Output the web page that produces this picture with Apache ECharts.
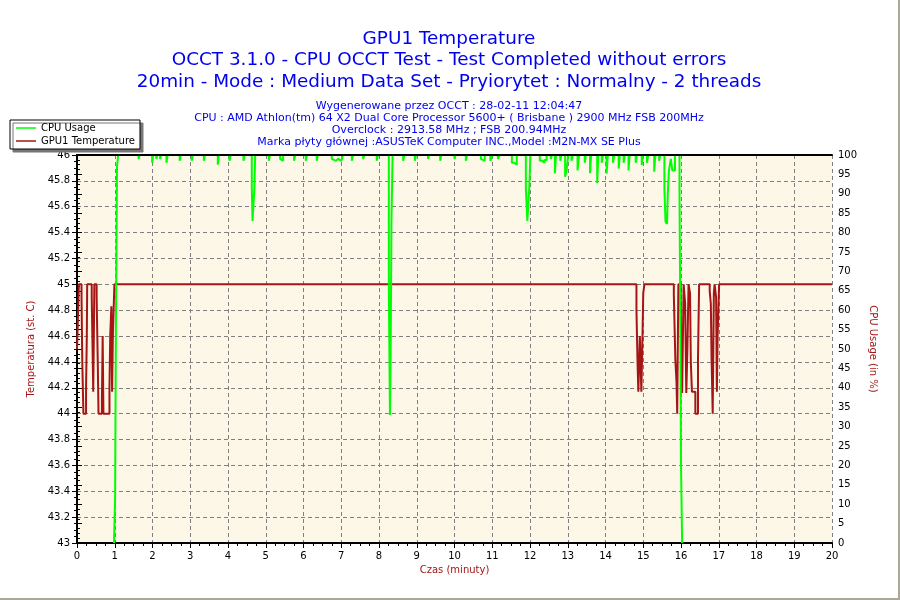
<!DOCTYPE html>
<html lang="pl">
<head>
    <meta charset="UTF-8">
    <title>GPU1 Temperature</title>
    <script src="https://cdn.jsdelivr.net/npm/echarts/dist/echarts.min.js"></script>
    <style>
        body {
            margin: 0;
            background: #fff;
        }

        #main {
            width: 900px;
            height: 600px;
            box-sizing: border-box;
            border-right: 2px solid #aca899;
            border-bottom: 2px solid #aca899;
        }
    </style>
</head>
<body>
<div id="main"></div>
<script type="text/javascript">
    // nagłówek
    var titleLines = [
        'GPU1 Temperature',
        'OCCT 3.1.0 - CPU OCCT Test - Test Completed without errors',
        '20min - Mode : Medium Data Set - Pryiorytet : Normalny - 2 threads'
    ];
    var infoLines = [
        'Wygenerowane przez OCCT : 28-02-11 12:04:47',
        'CPU : AMD Athlon(tm) 64 X2 Dual Core Processor 5600+ ( Brisbane ) 2900 MHz FSB 200MHz',
        'Overclock : 2913.58 MHz ; FSB 200.94MHz',
        'Marka płyty głównej :ASUSTeK Computer INC.,Model :M2N-MX SE Plus'
    ];
    var seriesNames = ['CPU Usage', 'GPU1 Temperature'];

    // temperatura GPU [minuta, st. C]
    var tempData = [
        [0, 44.5], [0.05, 45], [0.12, 44.9], [0.14, 44.4], [0.17, 44.0], [0.24, 44.2], [0.26, 44.6],
        [0.27, 45], [0.39, 44.9], [0.41, 44.55], [0.43, 44.17], [0.46, 45], [0.52, 44.9], [0.55, 44.4],
        [0.57, 44.0], [0.66, 44.1], [0.68, 44.6], [0.70, 44.0], [0.86, 44.2], [0.88, 44.6], [0.91, 44.83],
        [0.93, 44.17], [0.95, 44.6], [0.99, 45],
        [14.82, 44.8], [14.85, 44.38], [14.87, 44.17], [14.91, 44.6], [14.95, 44.17], [14.98, 44.6],
        [15.0, 44.93], [15.03, 45],
        [15.81, 44.92], [15.85, 44.42], [15.88, 44.25], [15.9, 44.0], [15.93, 45], [15.99, 44.9],
        [16.01, 44.42], [16.03, 44.16], [16.07, 45], [16.11, 44.85], [16.14, 44.16], [16.17, 44.5],
        [16.2, 45], [16.24, 44.93], [16.26, 44.4], [16.29, 44.17], [16.34, 44.17], [16.38, 44.0],
        [16.45, 44.42], [16.48, 45],
        [16.76, 44.95], [16.79, 44.85], [16.81, 44.42], [16.84, 44.0], [16.87, 44.93], [16.89, 45],
        [16.93, 44.9], [16.95, 44.17], [16.97, 44.6], [17.01, 45], [20, 45]
    ];

    // obciążenie CPU [minuta, %]
    var cpuData = [
        [0.98, 0], [0.99, 4], [1.01, 12], [1.03, 55], [1.06, 97], [1.09, 100],
        [1.63, 99], [1.66, 100], [1.99, 98], [2.02, 100], [2.1, 99], [2.13, 100], [2.2, 99], [2.23, 100],
        [2.37, 98], [2.4, 100], [2.72, 98.5], [2.75, 100], [3.04, 98.5], [3.07, 100],
        [3.36, 98.5], [3.39, 100], [3.73, 97.5], [3.76, 100], [4.04, 98.5], [4.07, 100],
        [4.41, 98.5], [4.44, 100],
        [4.63, 91.6], [4.65, 83], [4.70, 91.6], [4.72, 100],
        [5.08, 98.5], [5.11, 100], [5.38, 99], [5.42, 98.5], [5.46, 100], [5.75, 98.5], [5.78, 100],
        [6.06, 98.5], [6.09, 100], [6.35, 98.5], [6.38, 100],
        [6.75, 99], [6.8, 98.5], [6.86, 99], [6.92, 98.5], [7.0, 99], [7.05, 100],
        [7.28, 98.5], [7.31, 100], [7.58, 99], [7.61, 100], [7.94, 98.5], [7.97, 100],
        [8.26, 66], [8.29, 33], [8.31, 50], [8.33, 83], [8.36, 100],
        [8.64, 98.5], [8.67, 100], [8.95, 98.5], [8.98, 100], [9.3, 99], [9.33, 100],
        [9.62, 98.5], [9.65, 100], [10.0, 99], [10.03, 100], [10.3, 98.5], [10.33, 100],
        [10.7, 99], [10.75, 98.5], [10.8, 100], [10.95, 98.5], [11.0, 100], [11.15, 99], [11.2, 100],
        [11.52, 98], [11.58, 97.5], [11.65, 100],
        [11.89, 91.4], [11.93, 83], [11.98, 91.4], [12.01, 100],
        [12.26, 98.5], [12.32, 98], [12.38, 98.7], [12.44, 100], [12.55, 99], [12.58, 100],
        [12.66, 95.3], [12.69, 100], [12.8, 98.5], [12.83, 100],
        [12.93, 94.4], [12.97, 96], [13.01, 100], [13.1, 98.5], [13.13, 100],
        [13.26, 96], [13.3, 100], [13.45, 98], [13.48, 100], [13.59, 95.3], [13.62, 100],
        [13.78, 92.7], [13.81, 100], [13.9, 98], [13.93, 100], [14.03, 95.2], [14.06, 100],
        [14.2, 98], [14.23, 100], [14.35, 96.5], [14.38, 100], [14.48, 98], [14.51, 100],
        [14.61, 96], [14.64, 100], [14.8, 98], [14.83, 100], [14.96, 97.4], [14.99, 100],
        [15.1, 98], [15.13, 100], [15.29, 95.7], [15.32, 100], [15.42, 98.5], [15.45, 100],
        [15.56, 91.2], [15.59, 82.8], [15.63, 82.2], [15.65, 90], [15.68, 96], [15.73, 99],
        [15.77, 96], [15.84, 100],
        [15.96, 90.3], [15.98, 61], [16.0, 20.5], [16.03, 0]
    ];

    var blue = '#0000ee';
    var darkRed = '#a51515';
    var gridLine = {show: true, lineStyle: {color: '#808080', type: [4, 3], width: 1}};

    var titles = [];
    titleLines.forEach(function (t, i) {
        titles.push({
            text: t, left: 'center', top: 25 + i * 21.5,
            textStyle: {color: blue, fontSize: 18.4, fontWeight: 'normal', fontFamily: 'DejaVu Sans'}
        });
    });
    infoLines.forEach(function (t, i) {
        titles.push({
            text: t, left: 'center', top: 96 + i * 12,
            textStyle: {color: blue, fontSize: 11, fontWeight: 'normal', fontFamily: 'DejaVu Sans'}
        });
    });

    var myChart = echarts.init(document.getElementById('main'));
    var option = {
        animation: false,
        textStyle: {fontFamily: 'DejaVu Sans'},
        title: titles,
        legend: {
            data: seriesNames,
            orient: 'vertical',
            left: 10,
            top: 120,
            icon: 'rect',
            itemWidth: 20,
            itemHeight: 1.5,
            itemGap: 1,
            padding: [2, 5, 2, 6],
            backgroundColor: '#fff',
            borderColor: '#000',
            borderWidth: 1,
            borderRadius: 0,
            shadowColor: '#777',
            shadowBlur: 0,
            shadowOffsetX: 3,
            shadowOffsetY: 3,
            textStyle: {fontSize: 10, color: '#000', lineHeight: 12}
        },
        grid: {
            left: 77, right: 66, top: 155, bottom: 55,
            show: true, backgroundColor: '#fdf7e8', borderWidth: 0
        },
        xAxis: [{
            type: 'value',
            min: 0, max: 20, interval: 1,
            name: 'Czas (minuty)',
            nameLocation: 'middle',
            nameGap: 22,
            nameTextStyle: {color: darkRed, fontSize: 10},
            axisLine: {lineStyle: {color: '#000', width: 2}},
            axisTick: {length: 5, lineStyle: {color: '#000'}},
            minorTick: {show: true, splitNumber: 4, length: 3, lineStyle: {color: '#000'}},
            axisLabel: {color: '#000', fontSize: 10, margin: 8},
            splitLine: gridLine
        }, {
            // górna krawędź wykresu
            type: 'value', position: 'top',
            min: 0, max: 20, z: 5,
            axisLine: {lineStyle: {color: '#000', width: 2}},
            axisTick: {show: false},
            axisLabel: {show: false},
            splitLine: {show: false}
        }],
        yAxis: [{
            type: 'value',
            min: 43, max: 46, interval: 0.2,
            name: 'Temperatura (st. C)',
            nameLocation: 'middle',
            nameRotate: 90,
            nameGap: 40,
            nameTextStyle: {color: darkRed, fontSize: 10},
            axisLine: {show: true, lineStyle: {color: '#000', width: 2}},
            axisTick: {show: true, length: 5, lineStyle: {color: '#000'}},
            minorTick: {show: true, splitNumber: 4, length: 3, lineStyle: {color: '#000'}},
            axisLabel: {color: '#000', fontSize: 10, margin: 7},
            splitLine: gridLine
        }, {
            type: 'value',
            position: 'right',
            min: 0, max: 100, interval: 5,
            name: 'CPU Usage (in %)',
            nameLocation: 'middle',
            nameRotate: -90,
            nameGap: 31,
            nameTextStyle: {color: darkRed, fontSize: 10},
            axisLine: {show: true, lineStyle: {color: '#000', width: 2}},
            axisTick: {show: true, length: 5, lineStyle: {color: '#000'}},
            minorTick: {show: true, splitNumber: 4, length: 3, lineStyle: {color: '#000'}},
            axisLabel: {color: '#000', fontSize: 10, margin: 6},
            splitLine: {show: false}
        }],
        series: [{
            name: 'GPU1 Temperature',
            type: 'line',
            yAxisIndex: 0,
            step: 'end',
            showSymbol: false,
            color: darkRed,
            lineStyle: {color: darkRed, width: 2},
            data: tempData
        }, {
            name: 'CPU Usage',
            type: 'line',
            yAxisIndex: 1,
            step: 'end',
            showSymbol: false,
            color: '#00ff00',
            lineStyle: {color: '#00ff00', width: 2},
            data: cpuData
        }]
    };
    myChart.setOption(option);
</script>
</body>
</html>
